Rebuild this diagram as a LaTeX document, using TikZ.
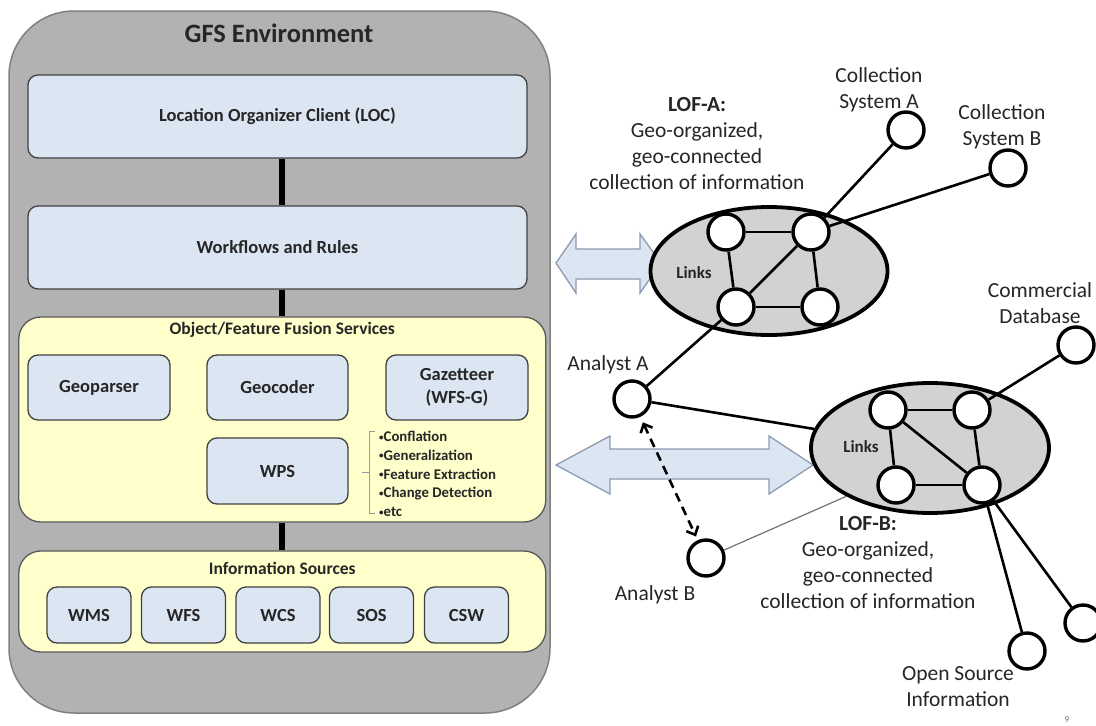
\documentclass[tikz,border=0pt]{standalone}
\usepackage{fontspec}
\setmainfont{Carlito}
\usetikzlibrary{shapes.geometric,arrows.meta}
\definecolor{boxblue}{HTML}{DCE6F2}
\definecolor{boxyellow}{HTML}{FFFFCC}
\definecolor{envgray}{HTML}{B2B2B2}
\definecolor{ellgray}{HTML}{D2D2D2}
\definecolor{arrowedge}{HTML}{8C9BB0}
\definecolor{pagenum}{HTML}{5A6A8A}
\newcommand\smallbul{{\fontsize{9}{9}\selectfont\raisebox{0.35ex}{•}}}
\begin{document}
\begin{tikzpicture}[x=1pt,y=-1pt,
  envbox/.style={draw=black!50, line width=1.5, fill=envgray, rounded corners=65},
  bbox/.style={draw=black!75, line width=1.3, fill=boxblue, rounded corners=10, inner sep=0,
    font=\fontsize{18.5}{23}\selectfont\bfseries, text=black!85, align=center},
  ybox/.style={draw=black!65, line width=1.3, fill=boxyellow, rounded corners=22},
  sectitle/.style={font=\fontsize{17.5}{20}\selectfont\bfseries, text=black!85},
  conn/.style={line width=6},
  circ/.style={circle, draw, line width=3.4, fill=white, minimum size=36, inner sep=0},
  lk/.style={line width=2.6},
  lof/.style={ellipse, draw, line width=3.8, fill=ellgray, inner sep=0},
  lbl/.style={font=\fontsize{21.5}{26}\selectfont, text=black!85, align=center},
  linkslbl/.style={font=\fontsize{17}{20}\selectfont\bfseries, text=black!85},
  dbl/.style={draw=arrowedge, fill=boxblue, line width=1.3}]
\useasboundingbox (0,0) rectangle (1096,726);
\fill[white] (0,0) rectangle (1096,726);

% ---------- GFS environment ----------
\node[envbox, minimum width=541, minimum height=702] (env) at (279.5,362) {};
\node[font=\fontsize{26.5}{30}\selectfont\bfseries, text=black!85] (title) at (279,33) {GFS Environment};

\node[bbox, minimum width=499, minimum height=83] (loc) at (277.5,116.5) {Location Organizer Client (LOC)};
\node[bbox, minimum width=499, minimum height=83] (wf) at (277.5,247.5) {Workflows and Rules};

\node[ybox, minimum width=527, minimum height=205] (fus) at (282.3,419.5) {};
\node[sectitle] (fustitle) at (282.3,330) {Object/Feature Fusion Services};
\node[bbox, minimum width=142, minimum height=65] (geop) at (99,387.5) {Geoparser};
\node[bbox, minimum width=141, minimum height=65] (geoc) at (277.5,387.5) {Geocoder};
\node[bbox, minimum width=142, minimum height=65] (gaz) at (457,387.5) {Gazetteer\\(WFS-G)};
\node[bbox, minimum width=141, minimum height=66] (wps) at (277.5,471) {WPS};
\node[font=\fontsize{14.8}{18.7}\selectfont\bfseries, text=black!85, align=left, anchor=west, inner sep=0] (wpslist) at (379,474)
  {\smallbul Conflation\\\smallbul Generalization\\\smallbul Feature Extraction\\\smallbul Change Detection\\\smallbul etc};
\draw[draw=black!40, line width=1] (375,431) -- (369,431) -- (369,513) -- (375,513) (369,472) -- (362,472);

\node[ybox, minimum width=527, minimum height=101] (info) at (282.3,601.5) {};
\node[sectitle] (infotitle) at (282.3,568) {Information Sources};
\node[bbox, minimum width=84, minimum height=56] (wms) at (89,615) {WMS};
\node[bbox, minimum width=84, minimum height=56] (wfs) at (183.5,615) {WFS};
\node[bbox, minimum width=84, minimum height=56] (wcs) at (278,615) {WCS};
\node[bbox, minimum width=84, minimum height=56] (sos) at (371.5,615) {SOS};
\node[bbox, minimum width=84, minimum height=56] (csw) at (466.5,615) {CSW};

\draw[conn] (loc.south -| fus.center) -- (wf.north -| fus.center);
\draw[conn] (wf.south -| fus.center) -- (fus.north);
\draw[conn] (fus.south) -- (info.north);

% ---------- double arrows ----------
\draw[dbl] (556,263) -- (576,234) -- (576,249) -- (640,249) -- (640,234) -- (661,263)
  -- (640,293) -- (640,279) -- (576,279) -- (576,293) -- cycle;
\draw[dbl] (556,465) -- (610,436) -- (610,449) -- (769,449) -- (769,436) -- (813,465)
  -- (769,494) -- (769,479) -- (610,479) -- (610,494) -- cycle;

% ---------- LOF ellipses ----------
\node[lof, minimum width=237, minimum height=128] (lofa) at (769,271) {};
\node[lof, minimum width=238, minimum height=130] (lofb) at (930,448) {};
\node[linkslbl] (linksa) at (694,273) {Links};
\node[linkslbl] (linksb) at (861,447) {Links};

% circles
\node[circ] (a1) at (726,232) {};
\node[circ] (a2) at (811,232) {};
\node[circ] (a3) at (736,307) {};
\node[circ] (a4) at (820,307) {};
\node[circ] (b1) at (888,410) {};
\node[circ] (b2) at (972,410) {};
\node[circ] (b3) at (896,485) {};
\node[circ] (b4) at (982,485) {};
\node[circ] (csa) at (906,130) {};
\node[circ] (csb) at (1008,168) {};
\node[circ] (com) at (1076,345) {};
\node[circ] (ana) at (632,399) {};
\node[circ] (anb) at (706,558) {};
\node[circ] (osi) at (1027,651) {};
\node[circ] (oth) at (1083,623) {};

% edges
\draw[lk] (a1) -- (a2);
\draw[lk] (a1) -- (a3);
\draw[lk] (a2) -- (a3);
\draw[lk] (a2) -- (a4);
\draw[lk] (a3) -- (a4);
\draw[lk] (a2) -- (csa);
\draw[lk] (a2) -- (csb);
\draw[lk] (a3) -- (ana);
\draw[lk] (ana) -- (lofb);
\draw[lk] (b1) -- (b2);
\draw[lk] (b1) -- (b3);
\draw[lk] (b1) -- (b4);
\draw[lk] (b2) -- (b4);
\draw[lk] (b3) -- (b4);
\draw[lk] (b2) -- (com);
\draw[lk] (b4) -- (osi);
\draw[lk] (b4) -- (oth);
\draw[draw=black!55, line width=1.2] (anb) -- (lofb.210);
\draw[line width=2.6, dash pattern=on 9pt off 6pt,
  {Straight Barb[length=7pt,width=13pt]}-{Straight Barb[length=7pt,width=13pt]},
  shorten <=6pt, shorten >=4pt] (ana) -- (anb);

% labels
\node[lbl] (lcsa) at (879,90) {Collection\\System A};
\node[lbl] (lcsb) at (1002,126.5) {Collection\\System B};
\node[lbl] (lcom) at (1040,303.5) {Commercial\\Database};
\node[lbl] (lana) at (608,365) {Analyst A};
\node[lbl] (lanb) at (655,595) {Analyst B};
\node[lbl] (losi) at (958,686.5) {Open Source\\Information};
\node[lbl] (llofa) at (697,144) {\textbf{LOF-A:}\\Geo-organized,\\geo-connected\\collection of information};
\node[lbl] (llofb) at (868,563) {\textbf{LOF-B:}\\Geo-organized,\\geo-connected\\collection of information};
\node[font=\fontsize{9}{10}\selectfont, text=pagenum] (pg) at (1067,720) {9};
\end{tikzpicture}
\end{document}
